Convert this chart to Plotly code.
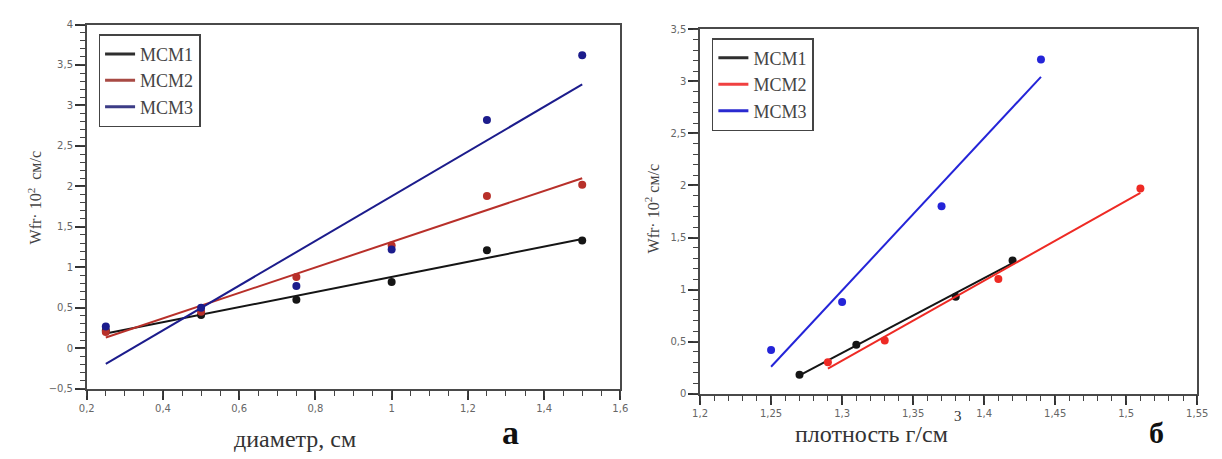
import numpy as np
import plotly.graph_objects as go

# --- panel а: filtration rate vs particle diameter ---
diam = [0.25, 0.5, 0.75, 1.0, 1.25, 1.5]
a_mcm1 = [0.22, 0.41, 0.60, 0.82, 1.21, 1.33]
a_mcm2 = [0.20, 0.45, 0.88, 1.27, 1.88, 2.02]
a_mcm3 = [0.27, 0.50, 0.77, 1.22, 2.82, 3.62]

# --- panel б: filtration rate vs density ---
b_x1 = [1.27, 1.31, 1.38, 1.42]
b_y1 = [0.18, 0.47, 0.93, 1.28]
b_x2 = [1.29, 1.33, 1.41, 1.51]
b_y2 = [0.30, 0.51, 1.10, 1.97]
b_x3 = [1.25, 1.30, 1.37, 1.44]
b_y3 = [0.42, 0.88, 1.80, 3.21]

series_names = ["МСМ1", "МСМ2", "МСМ3"]
colors_a = ["#151515", "#b8302a", "#1c1c8c"]
colors_b = ["#151515", "#ee2a24", "#2424d8"]
legend_colors_a = ["#2e2e2e", "#a84a44", "#3c3c86"]
legend_colors_b = ["#2e2e2e", "#f04040", "#2a2ad0"]

W, H = 1222, 459


def px_x(p):
    return p / W


def px_y(p):
    return 1 - p / H


fig = go.Figure()

# invisible traces that activate the tick-only axes (drawn underneath)
fig.add_trace(go.Scatter(x=[None], y=[None], xaxis="x3", yaxis="y3",
                         showlegend=False, hoverinfo="skip"))
fig.add_trace(go.Scatter(x=[None], y=[None], xaxis="x4", yaxis="y4",
                         showlegend=False, hoverinfo="skip"))


def add_series(xs, ys, color, lcolor, name, xaxis, yaxis, legend):
    xs = np.asarray(xs, dtype=float)
    ys = np.asarray(ys, dtype=float)
    k, b = np.polyfit(xs, ys, 1)
    xl = np.array([xs.min(), xs.max()])
    fig.add_trace(go.Scatter(
        x=xl, y=k * xl + b, mode="lines", name=name,
        line=dict(color=color, width=2), xaxis=xaxis, yaxis=yaxis,
        legend=legend, showlegend=False))
    # legend-only proxy so the legend swatch has its own colour
    fig.add_trace(go.Scatter(
        x=[None], y=[None], mode="lines", name=name,
        line=dict(color=lcolor, width=3), xaxis=xaxis, yaxis=yaxis,
        legend=legend, showlegend=True))
    fig.add_trace(go.Scatter(
        x=xs, y=ys, mode="markers", showlegend=False,
        marker=dict(color=color, size=8), xaxis=xaxis, yaxis=yaxis))


for ys, c, lc, n in zip([a_mcm1, a_mcm2, a_mcm3], colors_a, legend_colors_a, series_names):
    add_series(diam, ys, c, lc, n, "x", "y", "legend")

for (xs, ys), c, lc, n in zip([(b_x1, b_y1), (b_x2, b_y2), (b_x3, b_y3)],
                              colors_b, legend_colors_b, series_names):
    add_series(xs, ys, c, lc, n, "x2", "y2", "legend2")

tick_font = dict(family="DejaVu Sans", size=10, color="#666666")
axis_common = dict(
    showline=True, linecolor="#4a4a4a", linewidth=1.5, mirror=True,
    ticks="outside", ticklen=10, tickwidth=1.5, tickcolor="#333333",
    showgrid=False, zeroline=False, tickfont=tick_font,
)
# tick-only companion axes that carry the short intermediate ticks
minor_common = dict(
    showline=False, ticks="outside", ticklen=6, tickwidth=1.2, tickcolor="#444444",
    showgrid=False, zeroline=False, showticklabels=False, tickmode="linear",
)

legend_common = dict(
    xanchor="left", yanchor="top", bgcolor="white", bordercolor="#444444",
    borderwidth=1.5, font=dict(family="Liberation Serif", size=18, color="#444444"),
    tracegroupgap=0, itemwidth=30,
)

xa_dom = [px_x(80), px_x(622)]
ya_dom = [px_y(393), px_y(19)]
xb_dom = [px_x(703), px_x(1208)]
yb_dom = [px_y(398), px_y(24)]

fig.update_layout(
    width=W, height=H, autosize=False,
    margin=dict(l=0, r=0, t=0, b=0),
    paper_bgcolor="white", plot_bgcolor="rgba(0,0,0,0)",
    separators=",.",
    xaxis3=dict(domain=xa_dom, range=[0.2, 1.6], dtick=0.05, tick0=0.2,
                anchor="y3", side="bottom", **minor_common),
    yaxis3=dict(domain=ya_dom, range=[-0.5, 4], dtick=0.1, tick0=0,
                anchor="x3", side="left", **minor_common),
    xaxis4=dict(domain=xb_dom, range=[1.2, 1.55], dtick=0.01, tick0=1.2,
                anchor="y4", side="bottom", **minor_common),
    yaxis4=dict(domain=yb_dom, range=[0, 3.5], dtick=0.1, tick0=0,
                anchor="x4", side="left", **minor_common),
    xaxis=dict(domain=xa_dom, range=[0.2, 1.6], dtick=0.2, tick0=0.2,
               anchor="y", **axis_common),
    yaxis=dict(domain=ya_dom, range=[-0.5, 4], dtick=0.5, tick0=0,
               anchor="x", **axis_common),
    xaxis2=dict(domain=xb_dom, range=[1.2, 1.55], dtick=0.05, tick0=1.2,
                anchor="y2", **axis_common),
    yaxis2=dict(domain=yb_dom, range=[0, 3.5], dtick=0.5, tick0=0,
                anchor="x2", **axis_common),
    legend=dict(x=px_x(92), y=px_y(29), **legend_common),
    legend2=dict(x=px_x(715), y=px_y(33), **legend_common),
)

title_font = dict(family="Liberation Serif", size=24, color="#333333")
ylab_font = dict(family="Liberation Serif", size=16, color="#444444")

annotations = [
    dict(text="диаметр, см", x=px_x(292), y=px_y(445), font=title_font),
    dict(text="<b>а</b>", x=px_x(510), y=px_y(438),
         font=dict(family="Liberation Serif", size=34, color="#111111")),
    dict(text="плотность г/см", x=px_x(877), y=px_y(440), font=title_font),
    dict(text="3", x=px_x(965), y=px_y(421),
         font=dict(family="Liberation Serif", size=15, color="#333333")),
    dict(text="<b>б</b>", x=px_x(1167), y=px_y(438),
         font=dict(family="Liberation Serif", size=30, color="#111111")),
    dict(text="Wfr· 10<sup>2</sup>  см/с", x=px_x(27), y=px_y(197), textangle=-90,
         font=ylab_font),
    dict(text="Wfr· 10<sup>2</sup> см/с", x=px_x(654), y=px_y(208), textangle=-90,
         font=ylab_font),
]
for a in annotations:
    fig.add_annotation(xref="paper", yref="paper", showarrow=False,
                       xanchor="center", yanchor="middle", **a)

fig.write_html("out.html")
